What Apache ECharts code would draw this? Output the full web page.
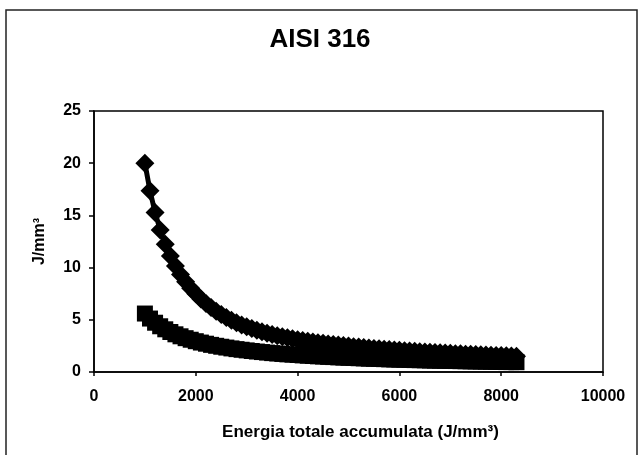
<!DOCTYPE html>
<html>
<head>
<meta charset="utf-8">
<script src="https://cdn.jsdelivr.net/npm/echarts@6/dist/echarts.min.js"></script>
<style>
html,body{margin:0;padding:0;background:#fff;}
#chart{width:640px;height:455px;}
</style>
</head>
<body>
<div id="chart"></div>
<script>
// Energia totale accumulata (J/mm3) - x positions of the points
var energia = [1000,1100,1200,1300,1400,1500,1600,1700,1800,1900,
  2000,2100,2200,2300,2400,2500,2600,2700,2800,2900,
  3000,3100,3200,3300,3400,3500,3600,3700,3800,3900,
  4000,4100,4200,4300,4400,4500,4600,4700,4800,4900,
  5000,5100,5200,5300,5400,5500,5600,5700,5800,5900,
  6000,6100,6200,6300,6400,6500,6600,6700,6800,6900,
  7000,7100,7200,7300,7400,7500,7600,7700,7800,7900,
  8000,8100,8200,8300];
// diamond series (J/mm3)
var serieRombi = [20.00,17.36,15.28,13.61,12.24,11.11,10.16,9.34,8.64,8.03,
  7.50,7.00,6.55,6.17,5.82,5.51,5.22,4.96,4.72,4.51,
  4.33,4.16,4.00,3.86,3.72,3.59,3.47,3.37,3.27,3.18,
  3.10,3.02,2.95,2.88,2.81,2.75,2.69,2.63,2.58,2.53,
  2.48,2.43,2.39,2.34,2.30,2.26,2.22,2.18,2.15,2.11,
  2.08,2.04,2.01,1.98,1.95,1.92,1.89,1.86,1.84,1.81,
  1.79,1.76,1.74,1.71,1.69,1.67,1.65,1.63,1.61,1.59,
  1.57,1.55,1.53,1.51];
// square series (J/mm3)
var serieQuadrati = [5.60,5.12,4.72,4.38,4.09,3.83,3.61,3.42,3.24,3.09,
  2.95,2.82,2.71,2.60,2.51,2.42,2.34,2.26,2.19,2.13,
  2.07,2.01,1.96,1.91,1.86,1.81,1.77,1.73,1.69,1.66,
  1.63,1.59,1.56,1.53,1.50,1.48,1.45,1.43,1.40,1.38,
  1.36,1.34,1.32,1.30,1.28,1.26,1.25,1.23,1.21,1.20,
  1.18,1.17,1.15,1.14,1.13,1.12,1.10,1.09,1.08,1.07,
  1.06,1.05,1.04,1.03,1.02,1.01,1.00,0.99,0.98,0.97,
  0.96,0.95,0.95,0.94];
var xTicks = [0,2000,4000,6000,8000,10000];
var yTicks = [0,5,10,15,20,25];
var titolo = 'AISI 316';
var xNome = 'Energia totale accumulata (J/mm\u00B3)';
var yNome = 'J/mm\u00B3';

function pairs(xs, ys){ return xs.map(function(x,i){ return [x, ys[i]]; }); }

var font = '"Liberation Sans", Arial, sans-serif';
var chart = echarts.init(document.getElementById('chart'), null, {renderer:'canvas'});
chart.setOption({
  animation:false,
  backgroundColor:'#fff',
  title:{text:titolo, left:'center', top:22,
    textStyle:{fontFamily:font, fontWeight:'bold', fontSize:26, color:'#000'}},
  graphic:[{type:'rect', shape:{x:6,y:10,width:631,height:470}, style:{fill:null, stroke:'#222', lineWidth:1.5}, silent:true}],
  grid:{left:94, right:37, top:111, bottom:83, show:true, borderColor:'#000', borderWidth:1.5},
  xAxis:{type:'value', min:xTicks[0], max:xTicks[xTicks.length-1], interval:2000,
    name:xNome, nameLocation:'middle', nameGap:52,
    nameTextStyle:{fontFamily:font, fontWeight:'bold', fontSize:17, color:'#000', padding:[0,0,0,24]},
    axisLine:{lineStyle:{color:'#000', width:1.5}},
    axisTick:{show:true, length:4, lineStyle:{color:'#000', width:1.5}},
    axisLabel:{margin:17, fontFamily:font, fontWeight:'bold', fontSize:16, color:'#000',
      formatter:function(v){ return String(v); }},
    splitLine:{show:false}},
  yAxis:{type:'value', min:yTicks[0], max:yTicks[yTicks.length-1], interval:5,
    name:yNome, nameLocation:'middle', nameGap:46,
    nameTextStyle:{fontFamily:font, fontWeight:'bold', fontSize:16, color:'#000'},
    axisLine:{lineStyle:{color:'#000', width:1.5}},
    axisTick:{show:true, length:5, lineStyle:{color:'#000', width:1.5}},
    axisLabel:{margin:13, fontFamily:font, fontWeight:'bold', fontSize:16, color:'#000',
      formatter:function(v){ return String(v); }},
    splitLine:{show:false}},
  series:[
    {type:'line', symbol:'diamond', symbolSize:19, showSymbol:true, showAllSymbol:true,
      data:pairs(energia, serieRombi), lineStyle:{color:'#000', width:5},
      itemStyle:{color:'#000', opacity:1}, silent:true},
    {type:'line', symbol:'rect', symbolSize:16, showSymbol:true, showAllSymbol:true,
      data:pairs(energia, serieQuadrati), lineStyle:{color:'#000', width:5},
      itemStyle:{color:'#000', opacity:1}, silent:true}
  ]
});
</script>
</body>
</html>
